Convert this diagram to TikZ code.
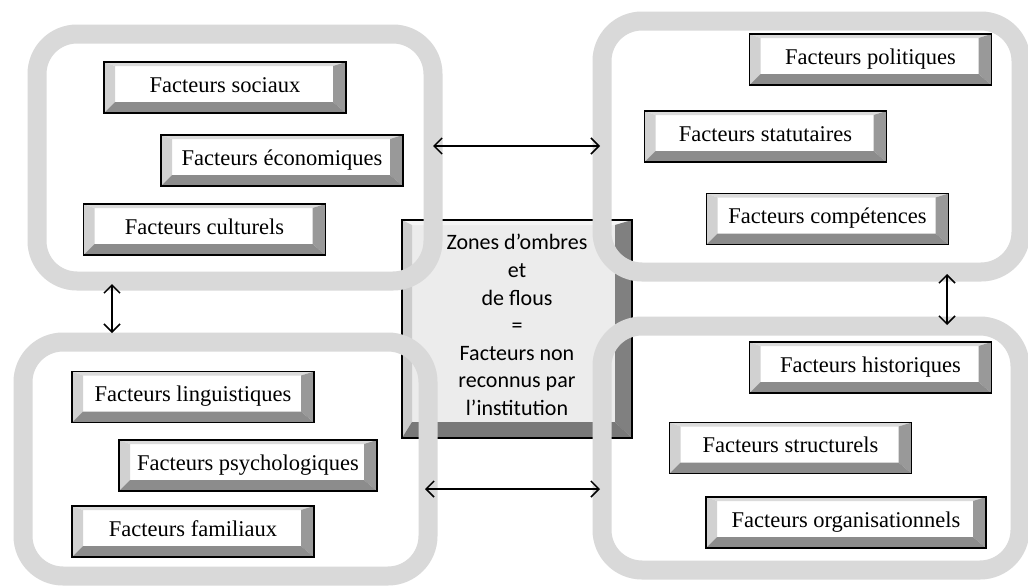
\documentclass[tikz,border=0pt]{standalone}
\usepackage{fontspec}
\setmainfont{Liberation Serif}
\newfontfamily\calfont{Carlito}
\usetikzlibrary{arrows.meta}
\definecolor{framegray}{gray}{0.85}
\definecolor{bevT}{gray}{0.86}
\definecolor{bevL}{gray}{0.82}
\definecolor{bevR}{gray}{0.60}
\definecolor{bevB}{gray}{0.55}
\definecolor{cface}{gray}{0.925}
\definecolor{cbevT}{gray}{0.96}
\definecolor{cbevL}{gray}{0.80}
\definecolor{cbevR}{gray}{0.50}
\definecolor{cbevB}{gray}{0.47}
\newcommand\bevelpic[8]{%
  \fill[#5] (path picture bounding box.north west) -- (path picture bounding box.north east)
    -- ([shift={(-#3,-#2)}]path picture bounding box.north east)
    -- ([shift={(#1,-#2)}]path picture bounding box.north west) -- cycle;
  \fill[#6] (path picture bounding box.north west) -- ([shift={(#1,-#2)}]path picture bounding box.north west)
    -- ([shift={(#1,#4)}]path picture bounding box.south west)
    -- (path picture bounding box.south west) -- cycle;
  \fill[#7] (path picture bounding box.north east) -- (path picture bounding box.south east)
    -- ([shift={(-#3,#4)}]path picture bounding box.south east)
    -- ([shift={(-#3,-#2)}]path picture bounding box.north east) -- cycle;
  \fill[#8] (path picture bounding box.south west) -- ([shift={(#1,#4)}]path picture bounding box.south west)
    -- ([shift={(-#3,#4)}]path picture bounding box.south east)
    -- (path picture bounding box.south east) -- cycle;
}
\begin{document}
\begin{tikzpicture}[x=1pt,y=-1pt,
  factbox/.style={draw=black, line width=1.4pt, fill=white, inner sep=0pt,
    minimum width=242pt, minimum height=51pt, text height=15pt, text depth=6pt,
    font=\fontsize{22.5}{27}\selectfont,
    path picture={\bevelpic{11pt}{4pt}{13pt}{11pt}{bevT}{bevL}{bevR}{bevB}}},
  cbox/.style={draw=black, line width=1.4pt, fill=cface, inner sep=0pt,
    minimum width=230pt, minimum height=218pt,
    path picture={\bevelpic{10pt}{5pt}{17pt}{16pt}{cbevT}{cbevL}{cbevR}{cbevB}}},
  ctext/.style={inner sep=0pt, align=center, font=\calfont\fontsize{22}{27.6}\selectfont},
  softframe/.style={draw=framegray, line width=19pt, rounded corners=40pt, inner sep=0pt, outer sep=0pt},
  arr/.style={{Straight Barb[length=8pt,width=16pt]}-{Straight Barb[length=8pt,width=16pt]}, line width=1.5pt}
]
\useasboundingbox[fill=white] (0,0) rectangle (1028,587);

% central box (under the frames)
\node[cbox] (zone) at (517,329) {};

% frames
\node[softframe, minimum width=396pt, minimum height=247pt] (ftl) at (235,157.5) {};
\node[softframe, minimum width=419pt, minimum height=251pt] (ftr) at (811.5,146.5) {};
\node[softframe, minimum width=405pt, minimum height=234pt] (fbl) at (225.5,459) {};
\node[softframe, minimum width=418pt, minimum height=244pt] (fbr) at (811,448) {};

% text of the central box
\node[ctext] (zonetext) at (517,325) {Zones d’ombres\\et\\de flous\\=\\Facteurs non\\reconnus par\\l’institution};

% factor boxes
\node[factbox] (soc) at (225,87.5) {Facteurs sociaux};
\node[factbox] (eco) at (282,160.5) {Facteurs économiques};
\node[factbox] (cul) at (204.5,229.5) {Facteurs culturels};
\node[factbox] (pol) at (870.5,59.5) {Facteurs politiques};
\node[factbox] (sta) at (765.5,136.5) {Facteurs statutaires};
\node[factbox] (com) at (827.5,219) {Facteurs compétences};
\node[factbox] (lin) at (193,397) {Facteurs linguistiques};
\node[factbox, minimum width=258pt] (psy) at (248,465.5) {Facteurs psychologiques};
\node[factbox] (fam) at (193,531.5) {Facteurs familiaux};
\node[factbox] (his) at (870.5,367.5) {Facteurs historiques};
\node[factbox] (str) at (790.5,448) {Facteurs structurels};
\node[factbox, minimum width=280pt] (org) at (846,522.5) {Facteurs organisationnels};

% arrow end points
\coordinate (a1) at (433,146);
\coordinate (a2) at (600,146);
\coordinate (b1) at (425,489);
\coordinate (b2) at (600,489);
\coordinate (c1) at (112,284);
\coordinate (c2) at (112,333);
\coordinate (d1) at (947,274);
\coordinate (d2) at (947,325);

\draw[arr] (a1) -- (a2);
\draw[arr] (b1) -- (b2);
\draw[arr] (c1) -- (c2);
\draw[arr] (d1) -- (d2);
\end{tikzpicture}
\end{document}
